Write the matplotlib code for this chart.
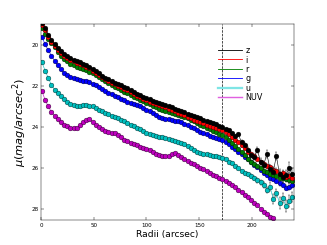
import matplotlib
matplotlib.use('Agg')
import matplotlib.pyplot as plt
from matplotlib.lines import Line2D
import numpy as np

# radii sampled every 3 arcsec
radii = np.arange(1, 240, 3)

z_mag = [18.95, 19.2, 19.5, 19.75, 19.98, 20.17, 20.32, 20.45, 20.55, 20.65,
         20.73, 20.8, 20.86, 20.93, 21.0, 21.08, 21.18, 21.28, 21.38, 21.5,
         21.6, 21.68, 21.77, 21.84, 21.9, 21.97, 22.04, 22.12, 22.2, 22.28,
         22.38, 22.45, 22.52, 22.58, 22.66, 22.72, 22.78, 22.82, 22.88, 22.92,
         22.97, 23.03, 23.1, 23.15, 23.2, 23.28, 23.35, 23.42, 23.48, 23.52,
         23.58, 23.64, 23.7, 23.75, 23.8, 23.86, 23.95, 23.98, 24.1, 24.15,
         24.3, 24.45, 24.35, 24.75, 24.9, 25.1, 25.35, 25.45, 25.1, 25.7,
         25.85, 25.3, 26.05, 26.2, 25.4, 26.3, 26.45, 26.35, 26.0, 26.3]

i_mag = [19.05, 19.3, 19.6, 19.85, 20.07, 20.25, 20.4, 20.52, 20.62, 20.72,
         20.8, 20.87, 20.93, 21.0, 21.07, 21.15, 21.25, 21.35, 21.46, 21.57,
         21.67, 21.76, 21.85, 21.92, 21.99, 22.06, 22.14, 22.22, 22.3, 22.38,
         22.47, 22.55, 22.62, 22.69, 22.77, 22.84, 22.9, 22.95, 23.0, 23.05,
         23.1, 23.16, 23.23, 23.3, 23.36, 23.44, 23.51, 23.58, 23.64, 23.7,
         23.76, 23.82, 23.88, 23.94, 23.99, 24.04, 24.1, 24.16, 24.25, 24.35,
         24.5, 24.62, 24.75, 24.9, 25.02, 25.2, 25.33, 25.42, 25.55, 25.7,
         25.8, 25.9, 25.95, 26.1, 26.15, 26.3, 26.25, 26.45, 26.4, 26.5]

r_mag = [19.17, 19.45, 19.7, 19.92, 20.13, 20.34, 20.52, 20.68, 20.8, 20.92,
         21.0, 21.06, 21.12, 21.17, 21.23, 21.3, 21.39, 21.48, 21.58, 21.68,
         21.78, 21.87, 21.96, 22.04, 22.12, 22.2, 22.28, 22.36, 22.44, 22.52,
         22.6, 22.67, 22.75, 22.83, 22.9, 22.98, 23.05, 23.12, 23.18, 23.23,
         23.28, 23.32, 23.36, 23.4, 23.45, 23.52, 23.58, 23.64, 23.72, 23.8,
         23.88, 23.96, 24.04, 24.12, 24.2, 24.26, 24.33, 24.4, 24.5, 24.62,
         24.78, 24.93, 25.05, 25.2, 25.35, 25.55, 25.68, 25.78, 25.9, 26.02,
         26.12, 26.2, 26.28, 26.35, 26.4, 26.48, 26.5, 26.55, 26.6, 26.62]

g_mag = [19.62, 19.97, 20.27, 20.53, 20.78, 21.0, 21.19, 21.36, 21.48, 21.58,
         21.63, 21.66, 21.7, 21.74, 21.78, 21.83, 21.89, 21.97, 22.06, 22.16,
         22.25, 22.33, 22.41, 22.48, 22.55, 22.62, 22.7, 22.76, 22.82, 22.88,
         22.93, 23.0, 23.07, 23.15, 23.23, 23.32, 23.43, 23.52, 23.57, 23.6,
         23.63, 23.66, 23.69, 23.72, 23.77, 23.84, 23.92, 23.99, 24.07, 24.15,
         24.23, 24.3, 24.36, 24.42, 24.48, 24.53, 24.58, 24.64, 24.74, 24.85,
         24.95, 25.08, 25.2, 25.33, 25.46, 25.58, 25.72, 25.84, 25.96, 26.1,
         26.22, 26.35, 26.46, 26.55, 26.65, 26.75, 26.82, 26.95, 26.9, 26.8]

u_mag = [20.85, 21.25, 21.62, 21.95, 22.18, 22.35, 22.5, 22.64, 22.76, 22.86,
         22.95, 22.98, 22.96, 22.94, 22.95, 22.97, 23.0, 23.08, 23.16, 23.24,
         23.31, 23.39, 23.46, 23.52, 23.58, 23.64, 23.72, 23.8, 23.88, 23.96,
         24.04, 24.12, 24.2, 24.28, 24.36, 24.41, 24.45, 24.47, 24.5, 24.52,
         24.58, 24.64, 24.68, 24.72, 24.77, 24.85, 24.92, 25.02, 25.12, 25.22,
         25.28, 25.32, 25.33, 25.36, 25.39, 25.42, 25.46, 25.52, 25.58, 25.68,
         25.76, 25.88, 26.02, 26.14, 26.25, 26.3, 26.38, 26.5, 26.6, 26.68,
         26.82, 27.05, 26.9, 27.5, 27.2, 27.7, 27.45, 27.85, 27.6, 27.4]

nuv_mag = [22.25, 22.68, 23.0, 23.27, 23.47, 23.63, 23.76, 23.88, 23.96, 24.03,
           24.07, 24.06, 23.88, 23.75, 23.66, 23.62, 23.74, 23.88, 24.0, 24.12,
           24.2, 24.24, 24.27, 24.3, 24.4, 24.5, 24.62, 24.7, 24.76, 24.82,
           24.9, 24.96, 25.02, 25.07, 25.12, 25.2, 25.3, 25.37, 25.41, 25.43,
           25.4, 25.3, 25.27, 25.36, 25.45, 25.56, 25.66, 25.74, 25.82, 25.9,
           25.98, 26.06, 26.16, 26.24, 26.32, 26.4, 26.47, 26.53, 26.62, 26.72,
           26.82, 26.94, 27.06, 27.18, 27.3, 27.42, 27.55, 27.68, 27.82, 27.98,
           28.12, 28.25, 28.38, 28.45, np.nan, np.nan, np.nan, np.nan, np.nan, np.nan]

# errors only matter in the outer part (radii >= 190)
z_err_tail = [0.1, 0.12, 0.12, 0.15, 0.15, 0.15, 0.2, 0.15, 0.2, 0.2, 0.25, 0.2, 0.25, 0.3, 0.25, 0.3, 0.3]
i_err_tail = [0.05, 0.06, 0.06, 0.08, 0.08, 0.1, 0.1, 0.1, 0.12, 0.12, 0.15, 0.15, 0.15, 0.15, 0.2, 0.2, 0.2]
r_err_tail = [0.04, 0.05, 0.05, 0.06, 0.06, 0.07, 0.08, 0.08, 0.1, 0.1, 0.1, 0.12, 0.12, 0.12, 0.15, 0.15, 0.15]
g_err_tail = [0.03, 0.03, 0.04, 0.04, 0.05, 0.05, 0.06, 0.06, 0.07, 0.08, 0.08, 0.1, 0.1, 0.12, 0.12, 0.15, 0.15]
u_err_tail = [0.06, 0.08, 0.08, 0.1, 0.1, 0.12, 0.12, 0.15, 0.15, 0.2, 0.25, 0.2, 0.3, 0.25, 0.3, 0.3, 0.25]
nuv_err_tail = [0.04] * 17

r_break = 172

bands = ['NUV', 'u', 'g', 'r', 'i', 'z']
colors = {'z': 'k', 'i': 'r', 'r': 'g', 'g': 'b', 'u': 'c', 'NUV': 'm'}
mags = {'z': z_mag, 'i': i_mag, 'r': r_mag, 'g': g_mag, 'u': u_mag, 'NUV': nuv_mag}
tails = {'z': z_err_tail, 'i': i_err_tail, 'r': r_err_tail, 'g': g_err_tail,
         'u': u_err_tail, 'NUV': nuv_err_tail}


def full_err(tail):
    return np.concatenate([np.zeros(len(radii) - len(tail)), tail])


fig = plt.figure(figsize=(8, 6), dpi=40.875)
ax = fig.add_axes([0.125, 0.1, 0.775, 0.8])

for b in bands:
    ax.errorbar(radii, mags[b], yerr=full_err(tails[b]), fmt='o-', color=colors[b],
                ecolor='k', elinewidth=0.8, capsize=2, markersize=8.5,
                markeredgecolor='k', markeredgewidth=0.6, lw=1)

ax.axvline(r_break, color='k', ls='--', lw=1.2)

ax.set_xlim(0, 240)
ax.set_ylim(28.55, 19.0)
ax.set_xticks([0, 50, 100, 150, 200])
ax.set_yticks([20, 22, 24, 26, 28])
ax.tick_params(direction='in', top=True, right=True, length=5, labelsize=10)
ax.set_xlabel('Radii (arcsec)', fontsize=16)
ax.set_ylabel(r'$\mu (mag/arcsec^2)$', fontsize=20)

# legend drawn with plain lines, like the original
legend_style = {'z': ('k', 1.5), 'i': ('r', 1.5), 'r': ('g', 1.5), 'g': ('b', 1.5),
                'u': ('#7fe5e5', 4), 'NUV': ('#e060e0', 2.5)}
handles = [Line2D([], [], color=legend_style[b][0], lw=legend_style[b][1])
           for b in ['z', 'i', 'r', 'g', 'u', 'NUV']]
ax.legend(handles, ['z', 'i', 'r', 'g', 'u', 'NUV'], loc='upper left',
          bbox_to_anchor=(0.70, 0.89), frameon=False, fontsize=14,
          handlelength=3.0, handletextpad=0.4, labelspacing=0.05,
          borderpad=0, borderaxespad=0)

fig.savefig('out.png', dpi=40.875)
